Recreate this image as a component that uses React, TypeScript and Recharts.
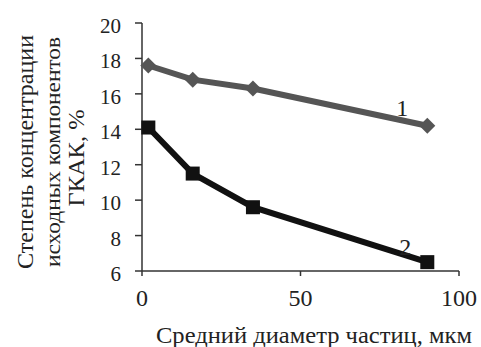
import { LineChart, Line, XAxis, YAxis } from "recharts";

// particle diameter, µm
const diameters = [2, 16, 35, 90];
// curve 1 and curve 2, %
const curve1 = [17.6, 16.8, 16.3, 14.2];
const curve2 = [14.1, 11.5, 9.6, 6.5];
const xTicks = [0, 50, 100];
const yTicks = [6, 8, 10, 12, 14, 16, 18, 20];

const data1 = diameters.map((d, i) => ({ d, v: curve1[i] }));
const data2 = diameters.map((d, i) => ({ d, v: curve2[i] }));

const FONT = "Liberation Serif, Times New Roman, serif";

const Diamond = (props: any) => {
  const { cx, cy } = props;
  if (cx == null || cy == null) return null;
  return (
    <polygon
      points={`${cx},${cy - 8} ${cx + 8},${cy} ${cx},${cy + 8} ${cx - 8},${cy}`}
      fill="#555"
    />
  );
};

const Square = (props: any) => {
  const { cx, cy } = props;
  if (cx == null || cy == null) return null;
  return <rect x={cx - 7} y={cy - 7} width={14} height={14} fill="#111" />;
};

const XTick = (props: any) => {
  const { x, y, payload } = props;
  return (
    <text x={x} y={y + 30} fontFamily={FONT} fontSize={24} fill="#222" textAnchor="middle">
      {payload.value}
    </text>
  );
};

const YTick = (props: any) => {
  const { x, y, payload } = props;
  return (
    <text x={x} y={y + 10} fontFamily={FONT} fontSize={21} fill="#222" textAnchor="end">
      {payload.value}
    </text>
  );
};

const endLabel = (text: string, dx: number, dy: number) => (props: any) => {
  const { x, y, index } = props;
  if (index !== diameters.length - 1) return null;
  return (
    <text x={x + dx} y={y + dy} fontFamily={FONT} fontSize={24} fill="#222" textAnchor="middle">
      {text}
    </text>
  );
};

const YLabel = () => (
  <g fontFamily={FONT} fill="#222" textAnchor="middle">
    <text transform="translate(33,152) rotate(-90)" fontSize={23} textLength={234} lengthAdjust="spacingAndGlyphs">
      Степень концентрации
    </text>
    <text transform="translate(60,152) rotate(-90)" fontSize={21} textLength={230} lengthAdjust="spacingAndGlyphs">
      исходных компонентов
    </text>
    <text transform="translate(84,158) rotate(-90)" fontSize={23} textLength={97} lengthAdjust="spacingAndGlyphs">
      ГКАК, %
    </text>
  </g>
);

const XLabel = () => (
  <text x={314} y={343} fontFamily={FONT} fontSize={24} fill="#222" textAnchor="middle" textLength={316} lengthAdjust="spacingAndGlyphs">
    Средний диаметр частиц, мкм
  </text>
);

export default function App() {
  return (
    <div style={{ position: "absolute", left: 0, top: 0, width: 481, height: 347, background: "#fff" }}>
      <LineChart width={481} height={347} margin={{ top: 23, right: 22, bottom: 46, left: 82 }}>
        <XAxis
          type="number"
          dataKey="d"
          domain={[0, 100]}
          ticks={xTicks}
          height={30}
          allowDuplicatedCategory={false}
          stroke="#333"
          strokeWidth={1.5}
          tickSize={5}
          tickMargin={0}
          tick={<XTick />}
        />
        <YAxis
          type="number"
          domain={[6, 20]}
          ticks={yTicks}
          width={60}
          stroke="#333"
          strokeWidth={1.5}
          tickSize={7}
          tickMargin={14}
          tick={<YTick />}
        />
        <Line
          data={data1}
          dataKey="v"
          type="linear"
          stroke="#555"
          strokeWidth={6}
          dot={<Diamond />}
          activeDot={false}
          label={endLabel("1", -25, -10)}
          isAnimationActive={false}
        />
        <Line
          data={data2}
          dataKey="v"
          type="linear"
          stroke="#111"
          strokeWidth={6}
          dot={<Square />}
          activeDot={false}
          label={endLabel("2", -22, -7)}
          isAnimationActive={false}
        />
        <YLabel />
        <XLabel />
      </LineChart>
    </div>
  );
}
